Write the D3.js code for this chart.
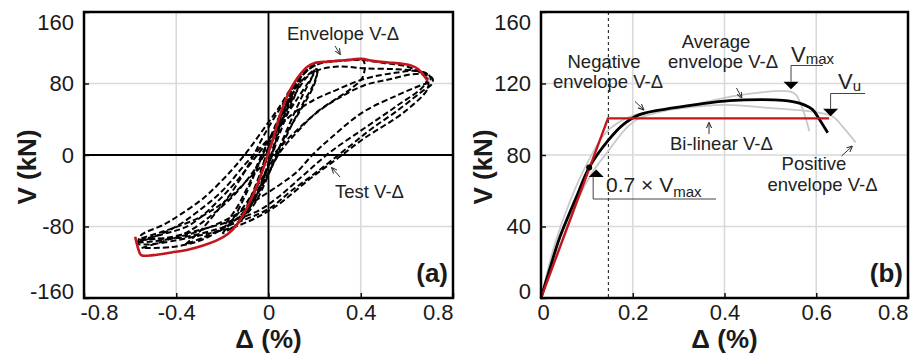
<!DOCTYPE html>
<html>
<head>
<meta charset="utf-8">
<script src="https://cdn.jsdelivr.net/npm/d3@7"></script>
<style>
  body { margin: 0; background: #fff; }
  svg { display: block; font-family: "Liberation Sans", Arial, Helvetica, sans-serif; }
</style>
</head>
<body>
<svg id="chart" width="910" height="358"></svg>
<script>
// ---------- panel (a): test V-Δ loops + envelope ----------
const aXTicks = [-0.8, -0.4, 0, 0.4, 0.8];
const aYTicks = [-160, -80, 0, 80, 160];

const envelopeA = [[-0.578,-91.5],[-0.566,-104],[-0.552,-112],[-0.5,-112],[-0.42,-109],[-0.35,-106],[-0.28,-101],
  [-0.22,-95],[-0.175,-88],[-0.14,-79],[-0.11,-67],[-0.08,-52],[-0.05,-34],[-0.025,-17],[0,3],[0.02,18],[0.038,35],
  [0.06,52],[0.085,68],[0.11,80],[0.14,91],[0.17,99],[0.2,103],[0.26,104.5],[0.33,106],[0.4,107.5],[0.46,105],
  [0.52,103.5],[0.58,102],[0.62,100],[0.65,96],[0.67,90],[0.69,83]];

const testLoops = [
  [[-0.09,-60],[-0.06,-42],[-0.03,-20],[0,2],[0.03,25],[0.06,46],[0.09,62],[0.1,66],[0.08,55],[0.05,33],[0.02,8],[-0.01,-16],[-0.04,-36],[-0.07,-52],[-0.09,-60]],
  [[-0.1,-66],[-0.07,-48],[-0.04,-25],[-0.01,0],[0.02,22],[0.05,42],[0.08,58],[0.11,70],[0.09,58],[0.06,38],[0.03,14],[0,-12],[-0.03,-32],[-0.06,-50],[-0.1,-66]],
  [[-0.13,-75],[-0.09,-55],[-0.05,-30],[-0.02,-8],[0.02,20],[0.06,48],[0.1,68],[0.14,84],[0.12,70],[0.08,45],[0.04,18],[0,-12],[-0.04,-38],[-0.08,-58],[-0.13,-75]],
  [[-0.2,-88],[-0.15,-70],[-0.1,-45],[-0.05,-15],[0,15],[0.05,45],[0.1,72],[0.15,90],[0.2,100],[0.19,88],[0.15,68],[0.1,40],[0.05,10],[0,-22],[-0.05,-50],[-0.1,-68],[-0.15,-80],[-0.2,-88]],
  [[-0.21,-85],[-0.14,-60],[-0.08,-30],[-0.03,0],[0.03,30],[0.08,58],[0.14,82],[0.21,96],[0.2,82],[0.15,58],[0.09,28],[0.03,-5],[-0.03,-35],[-0.1,-62],[-0.16,-76],[-0.21,-85]],
  [[-0.36,-100],[-0.3,-86],[-0.22,-62],[-0.15,-38],[-0.08,-8],[-0.02,22],[0.05,52],[0.12,80],[0.18,97],[0.25,104],[0.33,106],[0.41,106],[0.41,88],[0.357,74],[0.3,64],[0.21,48],[0.125,26],[0.052,4],[0,-20],[-0.05,-45],[-0.12,-68],[-0.2,-82],[-0.28,-92],[-0.36,-100]],
  [[-0.565,-100],[-0.557,-90.8],[-0.455,-78],[-0.383,-66.7],[-0.281,-48],[-0.165,-18.5],[-0.093,3.7],[-0.02,29.6],[0.052,55.6],[0.096,74],[0.154,92.6],[0.197,101.8],[0.25,104],[0.35,106],[0.42,106],[0.5,103],[0.6,99],[0.66,92],[0.69,84],[0.69,74],[0.588,48],[0.414,18.5],[0.3,-3.7],[0.183,-26],[0.023,-59],[-0.122,-78],[-0.31,-90.7],[-0.513,-100],[-0.565,-100]],
  [[-0.56,-95],[-0.45,-88],[-0.339,-78],[-0.165,-37],[-0.049,0],[0.038,29.6],[0.125,63],[0.183,85],[0.21,94],[0.3,99],[0.414,97],[0.55,96],[0.646,94],[0.69,90],[0.675,77.8],[0.56,55.6],[0.414,29.6],[0.27,3.7],[0.154,-22],[0.038,-48],[-0.049,-63],[-0.165,-74],[-0.3,-84],[-0.45,-93],[-0.56,-95]],
  [[-0.55,-93],[-0.45,-85],[-0.3,-70],[-0.18,-50],[-0.08,-25],[0,-5],[0.1,22],[0.212,48],[0.3,63],[0.414,77.8],[0.53,85],[0.646,90.7],[0.71,86],[0.71,80],[0.66,70],[0.55,48],[0.45,30],[0.357,11],[0.212,-18.5],[0.096,-40.7],[0.009,-59],[-0.1,-72],[-0.25,-85],[-0.4,-93],[-0.55,-93]],
  [[-0.57,-98],[-0.5,-92],[-0.4,-80],[-0.3,-62],[-0.2,-40],[-0.1,-10],[0,18],[0.1,45],[0.2,62],[0.27,70],[0.414,85],[0.55,92],[0.646,94],[0.7,88],[0.7,82],[0.66,78],[0.56,67],[0.41,48],[0.27,19],[0.19,0],[0.125,-18.5],[0.05,-33],[-0.05,-50],[-0.15,-68],[-0.3,-85],[-0.45,-95],[-0.57,-98]],
  [[-0.55,-104],[-0.45,-96],[-0.35,-86],[-0.25,-68],[-0.15,-45],[-0.07,-20],[0,8],[0.06,40],[0.12,70],[0.17,88],[0.21,95],[0.2,80],[0.15,55],[0.08,25],[0.02,-5],[-0.05,-35],[-0.12,-62],[-0.2,-82],[-0.3,-96],[-0.42,-103],[-0.55,-104]]
];

// ---------- panel (b): envelopes + bi-linear idealisation ----------
const bXTicks = [0, 0.2, 0.4, 0.6, 0.8];
const bYTicks = [0, 40, 80, 120, 160];

const posEnvelope = [[0,0],[0.03,30],[0.063,54],[0.1,75],[0.143,93],[0.2,102],[0.3,106],[0.4,108],[0.49,106.5],
  [0.6,104],[0.636,101.5],[0.657,96],[0.686,87]];
const negEnvelope = [[0,0],[0.04,28],[0.08,55],[0.114,71],[0.146,82],[0.186,95],[0.215,100.7],[0.25,103.5],
  [0.33,108],[0.433,113.5],[0.541,115.6],[0.556,113.7],[0.57,106],[0.585,93.3]];
const avgEnvelope = [[0,0],[0.02,17],[0.041,34],[0.078,57],[0.105,73],[0.146,88],[0.179,97],[0.215,102.6],
  [0.288,106.3],[0.346,108.5],[0.411,110.4],[0.48,111],[0.527,110.6],[0.563,109],[0.592,105.4],[0.607,99.8],[0.625,92.4]];
const bilinear = [[0,0],[0.146,100.5],[0.628,100.5]];

const point07Vmax = [0.105, 73];
const pointVmax = [0.545, 110.6];
const pointVu = [0.628, 100.5];
const deltaYield = 0.147;

const svg = d3.select("#chart");
const red = "#c3161c", gridCol = "#d9d9d9", ink = "#1a1a1a";

// arrow marker for the little labels
svg.append("defs").append("marker")
  .attr("id", "arr").attr("viewBox", "0 0 8 8").attr("refX", 7).attr("refY", 4)
  .attr("markerWidth", 6).attr("markerHeight", 6).attr("orient", "auto")
  .append("path").attr("d", "M0,0.5L8,4L0,7.5").attr("fill", "none").attr("stroke", "#333").attr("stroke-width", 1.4);

function grid(g, x, y, xTicks, yTicks) {
  const [xl, xr] = x.range(), [yb, yt] = y.range();
  g.append("g").selectAll("line").data(xTicks.slice(1, -1)).join("line")
    .attr("x1", d => x(d)).attr("x2", d => x(d)).attr("y1", yt).attr("y2", yb)
    .attr("stroke", gridCol).attr("stroke-width", 1.6);
  g.append("g").selectAll("line").data(yTicks.slice(1, -1)).join("line")
    .attr("y1", d => y(d)).attr("y2", d => y(d)).attr("x1", xl).attr("x2", xr)
    .attr("stroke", gridCol).attr("stroke-width", 1.6);
}

function axes(g, x, y, xTicks, yTicks, tag, xTitle, yTitleX) {
  const [xl, xr] = x.range(), [yb, yt] = y.range();
  const xa = g.append("g").attr("transform", `translate(0,${yb})`)
    .call(d3.axisBottom(x).tickValues(xTicks).tickSize(-5).tickPadding(6).tickFormat(d => String(d)));
  const ya = g.append("g").attr("transform", `translate(${xl},0)`)
    .call(d3.axisLeft(y).tickValues(yTicks).tickSize(-5).tickPadding(10).tickFormat(d => String(d)));
  [xa, ya].forEach(a => {
    a.attr("font-size", 22).attr("font-family", null);
    a.select(".domain").remove();
    a.selectAll(".tick line").attr("stroke", "#111").attr("stroke-width", 1.5);
    a.selectAll(".tick text").attr("fill", ink);
  });
  const xt = xa.selectAll(".tick text");
  d3.select(xt.nodes()[0]).attr("text-anchor", "start").attr("x", -4);
  d3.select(xt.nodes()[xt.size() - 1]).attr("text-anchor", "end").attr("x", 0);
  const yl = ya.selectAll(".tick text");
  d3.select(yl.nodes()[0]).attr("y", -7);
  d3.select(yl.nodes()[yl.size() - 1]).attr("y", 10);

  g.append("rect").attr("x", xl).attr("y", yt).attr("width", xr - xl).attr("height", yb - yt)
    .attr("fill", "none").attr("stroke", "#000").attr("stroke-width", 2.5);

  g.append("text").attr("x", xr - 5).attr("y", yb - 16).attr("text-anchor", "end")
    .attr("font-size", 26).attr("font-weight", "bold").attr("fill", ink).text(tag);
  g.append("text").attr("x", (xl + xr) / 2).attr("y", 348).attr("text-anchor", "middle")
    .attr("font-size", 26).attr("font-weight", "bold").attr("fill", ink).text(xTitle);
  g.append("text").attr("transform", `translate(${yTitleX},${(yt + yb) / 2 + 12}) rotate(-90)`)
    .attr("text-anchor", "middle").attr("font-size", 26).attr("font-weight", "bold").attr("fill", ink)
    .text("V (kN)");
}

function note(g, x, y, txt, anchor, size) {
  return g.append("text").attr("x", x).attr("y", y).attr("text-anchor", anchor || "start")
    .attr("font-size", size || 18.5).attr("fill", "#222").text(txt);
}
function arrow(g, x1, y1, x2, y2) {
  g.append("line").attr("x1", x1).attr("y1", y1).attr("x2", x2).attr("y2", y2)
    .attr("stroke", "#333").attr("stroke-width", 1).attr("marker-end", "url(#arr)");
}

// ================= panel (a) =================
const xa = d3.scaleLinear().domain([-0.8, 0.8]).range([84, 453]);
const ya = d3.scaleLinear().domain([-160, 160]).range([298, 12]);
const ga = svg.append("g");
grid(ga, xa, ya, aXTicks, aYTicks);
ga.append("line").attr("x1", xa(0)).attr("x2", xa(0)).attr("y1", ya(160)).attr("y2", ya(-160))
  .attr("stroke", "#000").attr("stroke-width", 1.8);
ga.append("line").attr("x1", xa(-0.8)).attr("x2", xa(0.8)).attr("y1", ya(0)).attr("y2", ya(0))
  .attr("stroke", "#000").attr("stroke-width", 1.8);

const lineA = d3.line().x(d => xa(d[0])).y(d => ya(d[1])).curve(d3.curveCatmullRom.alpha(0.5));
ga.append("g").selectAll("path").data(testLoops).join("path")
  .attr("d", lineA).attr("fill", "none").attr("stroke", "#000")
  .attr("stroke-width", 2).attr("stroke-dasharray", "6,3");
ga.append("path").datum(envelopeA).attr("d", lineA).attr("fill", "none")
  .attr("stroke", red).attr("stroke-width", 2.6);

note(ga, 287, 39.5, "Envelope V-Δ");
arrow(ga, 335, 46, 340, 54);
note(ga, 335, 198, "Test V-Δ");
arrow(ga, 340, 177, 332, 168);
axes(ga, xa, ya, aXTicks, aYTicks, "(a)", "Δ (%)", 36);

// ================= panel (b) =================
const xb = d3.scaleLinear().domain([0, 0.8]).range([541, 908]);
const yb = d3.scaleLinear().domain([0, 160]).range([298, 12]);
const gb = svg.append("g");
grid(gb, xb, yb, bXTicks, bYTicks);
gb.append("line").attr("x1", xb(deltaYield)).attr("x2", xb(deltaYield)).attr("y1", yb(160)).attr("y2", yb(0))
  .attr("stroke", "#333").attr("stroke-width", 1.2).attr("stroke-dasharray", "3,3");

const lineB = d3.line().x(d => xb(d[0])).y(d => yb(d[1])).curve(d3.curveCatmullRom.alpha(0.5));
gb.append("g").selectAll("path").data([posEnvelope, negEnvelope]).join("path")
  .attr("d", lineB).attr("fill", "none").attr("stroke", "#c8c8c8").attr("stroke-width", 1.8);
gb.append("path").datum(avgEnvelope).attr("d", lineB).attr("fill", "none")
  .attr("stroke", "#000").attr("stroke-width", 2.8);
gb.append("path").datum(bilinear)
  .attr("d", d3.line().x(d => xb(d[0])).y(d => yb(d[1])))
  .attr("fill", "none").attr("stroke", red).attr("stroke-width", 2.4);
gb.append("circle").attr("cx", xb(point07Vmax[0])).attr("cy", yb(point07Vmax[1])).attr("r", 3).attr("fill", "#000");

// markers: triangles + leaders
function tri(g, cx, tipY, dir) {
  // dir 1 = pointing down, -1 = pointing up
  const h = 7.5 * dir;
  g.append("path").attr("d", `M${cx},${tipY}L${cx - 7.5},${tipY - h}L${cx + 7.5},${tipY - h}Z`).attr("fill", "#000");
}
function leader(g, pts) {
  g.append("path").attr("d", d3.line()(pts)).attr("fill", "none").attr("stroke", "#444").attr("stroke-width", 1);
}
// 0.7 x Vmax
const p7x = xb(point07Vmax[0]) + 7, p7y = yb(point07Vmax[1]) + 2;
tri(gb, p7x, p7y, -1);
leader(gb, [[p7x - 3, p7y + 7], [p7x - 3, 199], [716, 199]]);
const t7 = note(gb, 606, 191.5, "0.7 × V", "start", 21);
t7.append("tspan").attr("font-size", 15).attr("dy", 5).text("max");
// Vmax
const pmx = xb(pointVmax[0]), pmy = yb(pointVmax[1]) - 11;
tri(gb, pmx, pmy, 1);
leader(gb, [[pmx, pmy - 7.5], [pmx, 65.5], [823, 65.5]]);
const tm = note(gb, 791, 61.5, "V", "start", 22);
tm.append("tspan").attr("font-size", 15).attr("dy", 2.5).text("max");
// Vu
const pux = xb(pointVu[0]) + 1.5, puy = yb(pointVu[1]) - 2;
tri(gb, pux, puy, 1);
leader(gb, [[pux, puy - 7.5], [pux, 93.5], [865, 93.5]]);
const tu = note(gb, 838, 88.5, "V", "start", 22);
tu.append("tspan").attr("font-size", 15).attr("dy", 2).text("u");

note(gb, 604, 68.3, "Negative", "middle");
note(gb, 608, 88, "envelope V-Δ", "middle");
arrow(gb, 635, 101.5, 643.5, 109.5);
note(gb, 716, 48.3, "Average", "middle");
note(gb, 723, 68.3, "envelope V-Δ", "middle");
arrow(gb, 736.5, 88, 741.5, 97.5);
note(gb, 670, 150, "Bi-linear V-Δ");
arrow(gb, 709, 134, 709, 123);
note(gb, 814, 170, "Positive", "middle");
note(gb, 822.5, 190.5, "envelope V-Δ", "middle");
arrow(gb, 841.5, 156, 852, 146.5);

axes(gb, xb, yb, bXTicks, bYTicks, "(b)", "Δ (%)", 491.5);
</script>
</body>
</html>
